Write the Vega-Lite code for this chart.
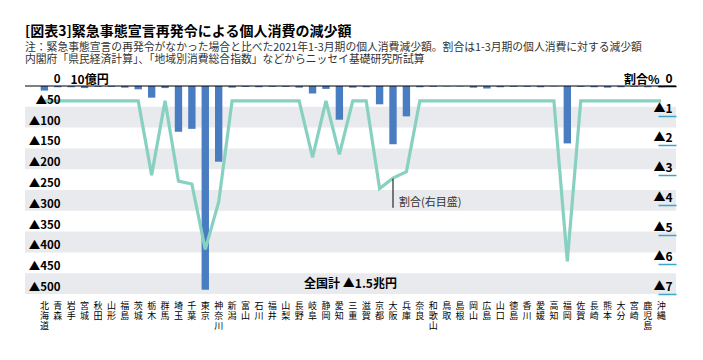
{
  "$schema": "https://vega.github.io/schema/vega-lite/v6.json",
  "width": 651,
  "height": 208,
  "autosize": {"type": "none"},
  "padding": {"left": 25, "top": 86, "right": 27, "bottom": 66},
  "config": {"font": "Noto Sans CJK JP", "view": {"stroke": null}},
  "title": {
    "text": "[図表3]緊急事態宣言再発令による個人消費の減少額",
    "subtitle": ["注：緊急事態宣言の再発令がなかった場合と比べた2021年1-3月期の個人消費減少額。割合は1-3月期の個人消費に対する減少額", "内閣府「県民経済計算」、「地域別消費総合指数」などからニッセイ基礎研究所試算"],
    "anchor": "start",
    "frame": "group",
    "fontSize": 14,
    "fontWeight": "bold",
    "color": "#000",
    "subtitleFontSize": 10.8,
    "subtitleColor": "#333",
    "subtitlePadding": 3,
    "subtitleLineHeight": 12,
    "offset": 8
  },
  "datasets": {
    "prefs": [
      {"pref": "北海道", "v": -11, "r": -0.5},
      {"pref": "青森", "v": -3, "r": -0.5},
      {"pref": "岩手", "v": -3, "r": -0.5},
      {"pref": "宮城", "v": -5, "r": -0.5},
      {"pref": "秋田", "v": -2, "r": -0.5},
      {"pref": "山形", "v": -2, "r": -0.5},
      {"pref": "福島", "v": -4, "r": -0.5},
      {"pref": "茨城", "v": -8, "r": -0.5},
      {"pref": "栃木", "v": -28, "r": -3.0},
      {"pref": "群馬", "v": -5, "r": -0.5},
      {"pref": "埼玉", "v": -110, "r": -3.2},
      {"pref": "千葉", "v": -103, "r": -3.3},
      {"pref": "東京", "v": -490, "r": -5.5},
      {"pref": "神奈川", "v": -182, "r": -3.9},
      {"pref": "新潟", "v": -4, "r": -0.5},
      {"pref": "富山", "v": -2, "r": -0.5},
      {"pref": "石川", "v": -3, "r": -0.5},
      {"pref": "福井", "v": -2, "r": -0.5},
      {"pref": "山梨", "v": -2, "r": -0.5},
      {"pref": "長野", "v": -4, "r": -0.5},
      {"pref": "岐阜", "v": -18, "r": -2.4},
      {"pref": "静岡", "v": -7, "r": -0.5},
      {"pref": "愛知", "v": -81, "r": -2.3},
      {"pref": "三重", "v": -4, "r": -0.5},
      {"pref": "滋賀", "v": -3, "r": -0.5},
      {"pref": "京都", "v": -44, "r": -3.45},
      {"pref": "大阪", "v": -140, "r": -3.1},
      {"pref": "兵庫", "v": -73, "r": -2.88},
      {"pref": "奈良", "v": -3, "r": -0.5},
      {"pref": "和歌山", "v": -2, "r": -0.5},
      {"pref": "鳥取", "v": -1, "r": -0.5},
      {"pref": "島根", "v": -1, "r": -0.5},
      {"pref": "岡山", "v": -4, "r": -0.5},
      {"pref": "広島", "v": -6, "r": -0.5},
      {"pref": "山口", "v": -3, "r": -0.5},
      {"pref": "徳島", "v": -2, "r": -0.5},
      {"pref": "香川", "v": -2, "r": -0.5},
      {"pref": "愛媛", "v": -3, "r": -0.5},
      {"pref": "高知", "v": -1, "r": -0.5},
      {"pref": "福岡", "v": -138, "r": -5.9},
      {"pref": "佐賀", "v": -2, "r": -0.5},
      {"pref": "長崎", "v": -3, "r": -0.5},
      {"pref": "熊本", "v": -4, "r": -0.5},
      {"pref": "大分", "v": -3, "r": -0.5},
      {"pref": "宮崎", "v": -2, "r": -0.5},
      {"pref": "鹿児島", "v": -3, "r": -0.5},
      {"pref": "沖縄", "v": -3, "r": -0.5}
    ],
    "stripes": [
      {"lo": -50, "hi": -100},
      {"lo": -150, "hi": -200},
      {"lo": -250, "hi": -300},
      {"lo": -350, "hi": -400},
      {"lo": -450, "hi": -500}
    ],
    "note": [{"pref": "大阪", "r1": -3.12, "r2": -4.1, "rt": -3.94, "label": "割合(右目盛)"}]
  },
  "layer": [
    {
      "data": {"name": "stripes"},
      "mark": {"type": "rect", "fill": "#e8eaed"},
      "encoding": {
        "x": {"value": 0},
        "x2": {"value": "width"},
        "y": {"field": "lo", "type": "quantitative", "scale": {"domain": [-500, 0], "nice": false, "zero": false}, "axis": null},
        "y2": {"field": "hi"}
      }
    },
    {
      "data": {"name": "prefs"},
      "mark": {"type": "bar", "color": "#4a7cc2"},
      "encoding": {
        "x": {"field": "pref", "type": "nominal", "sort": null,
          "scale": {"paddingInner": 0.45, "paddingOuter": 3.4, "align": 0.585},
          "axis": {"title": null, "domain": false, "ticks": false, "labelAngle": 0, "labelOverlap": false,
            "labelExpr": "split(datum.label, '')", "labelFontSize": 9, "labelLineHeight": 10,
            "labelBaseline": "top", "labelPadding": 7, "labelColor": "#000"}},
        "y": {"field": "v", "type": "quantitative", "scale": {"domain": [-500, 0], "nice": false, "zero": false},
          "axis": {"values": [0, -50, -100, -150, -200, -250, -300, -350, -400, -450, -500],
            "labelExpr": "datum.value == 0 ? '0' : '▲' + abs(datum.value)",
            "domain": false, "ticks": false, "grid": false, "labelOverlap": false,
            "labelAlign": "right", "labelBaseline": "alphabetic", "labelPadding": -35, "labelOffset": -3.5,
            "labelFontSize": 11.5, "labelFontWeight": "bold", "labelColor": "#000",
            "title": "10億円", "titleAngle": 0, "titleX": 45, "titleY": -3, "titleAlign": "left",
            "titleBaseline": "alphabetic", "titleFontSize": 12, "titleFontWeight": "bold", "titleColor": "#000", "zindex": 1}}
      }
    },
    {
      "data": {"values": [{"z": 0}]},
      "mark": {"type": "rule", "color": "#000", "strokeWidth": 1.2},
      "encoding": {"y": {"field": "z", "type": "quantitative", "scale": {"domain": [-500, 0], "nice": false, "zero": false}, "axis": null}}
    },
    {
      "data": {"values": [{"label": "全国計 ▲1.5兆円", "t": -476}]},
      "mark": {"type": "text", "fontSize": 12, "fontWeight": "bold", "color": "#000", "baseline": "middle", "align": "center"},
      "encoding": {
        "y": {"field": "t", "type": "quantitative", "scale": {"domain": [-500, 0], "nice": false, "zero": false}, "axis": null},
        "text": {"field": "label"}
      }
    },
    {
      "data": {"name": "prefs"},
      "mark": {"type": "line", "color": "#88d1c1", "strokeWidth": 3.2},
      "encoding": {
        "x": {"field": "pref", "type": "nominal", "sort": null},
        "y": {"field": "r", "type": "quantitative", "scale": {"domain": [-7, 0], "nice": false, "zero": false},
          "axis": {"orient": "right", "values": [0, -1, -2, -3, -4, -5, -6, -7],
            "labelExpr": "datum.value == 0 ? '0' : '▲' + abs(datum.value)",
            "domain": false, "grid": false, "ticks": true, "tickSize": -18, "tickWidth": 1.5, "labelOverlap": false,
            "tickColor": {"condition": {"test": "datum.value == 0", "value": "#000"}, "value": "#3aa6c9"},
            "labelAlign": "right", "labelBaseline": "alphabetic", "labelPadding": 14, "labelOffset": -3.5,
            "labelFontSize": 12, "labelFontWeight": "bold", "labelColor": "#000",
            "title": "割合%", "titleAngle": 0, "titleX": -17, "titleY": -3, "titleAlign": "right",
            "titleBaseline": "alphabetic", "titleFontSize": 12, "titleFontWeight": "bold", "titleColor": "#000", "zindex": 1}}
      }
    },
    {
      "data": {"name": "note"},
      "mark": {"type": "rule", "color": "#000", "strokeWidth": 1},
      "encoding": {
        "x": {"field": "pref", "type": "nominal", "sort": null},
        "y": {"field": "r1", "type": "quantitative", "scale": {"domain": [-7, 0], "nice": false, "zero": false}, "axis": null},
        "y2": {"field": "r2"}
      }
    },
    {
      "data": {"name": "note"},
      "mark": {"type": "text", "fontSize": 11, "color": "#333", "align": "left", "baseline": "middle", "dx": 6},
      "encoding": {
        "x": {"field": "pref", "type": "nominal", "sort": null},
        "y": {"field": "rt", "type": "quantitative", "scale": {"domain": [-7, 0], "nice": false, "zero": false}, "axis": null},
        "text": {"field": "label"}
      }
    }
  ],
  "resolve": {"scale": {"y": "independent"}}
}
